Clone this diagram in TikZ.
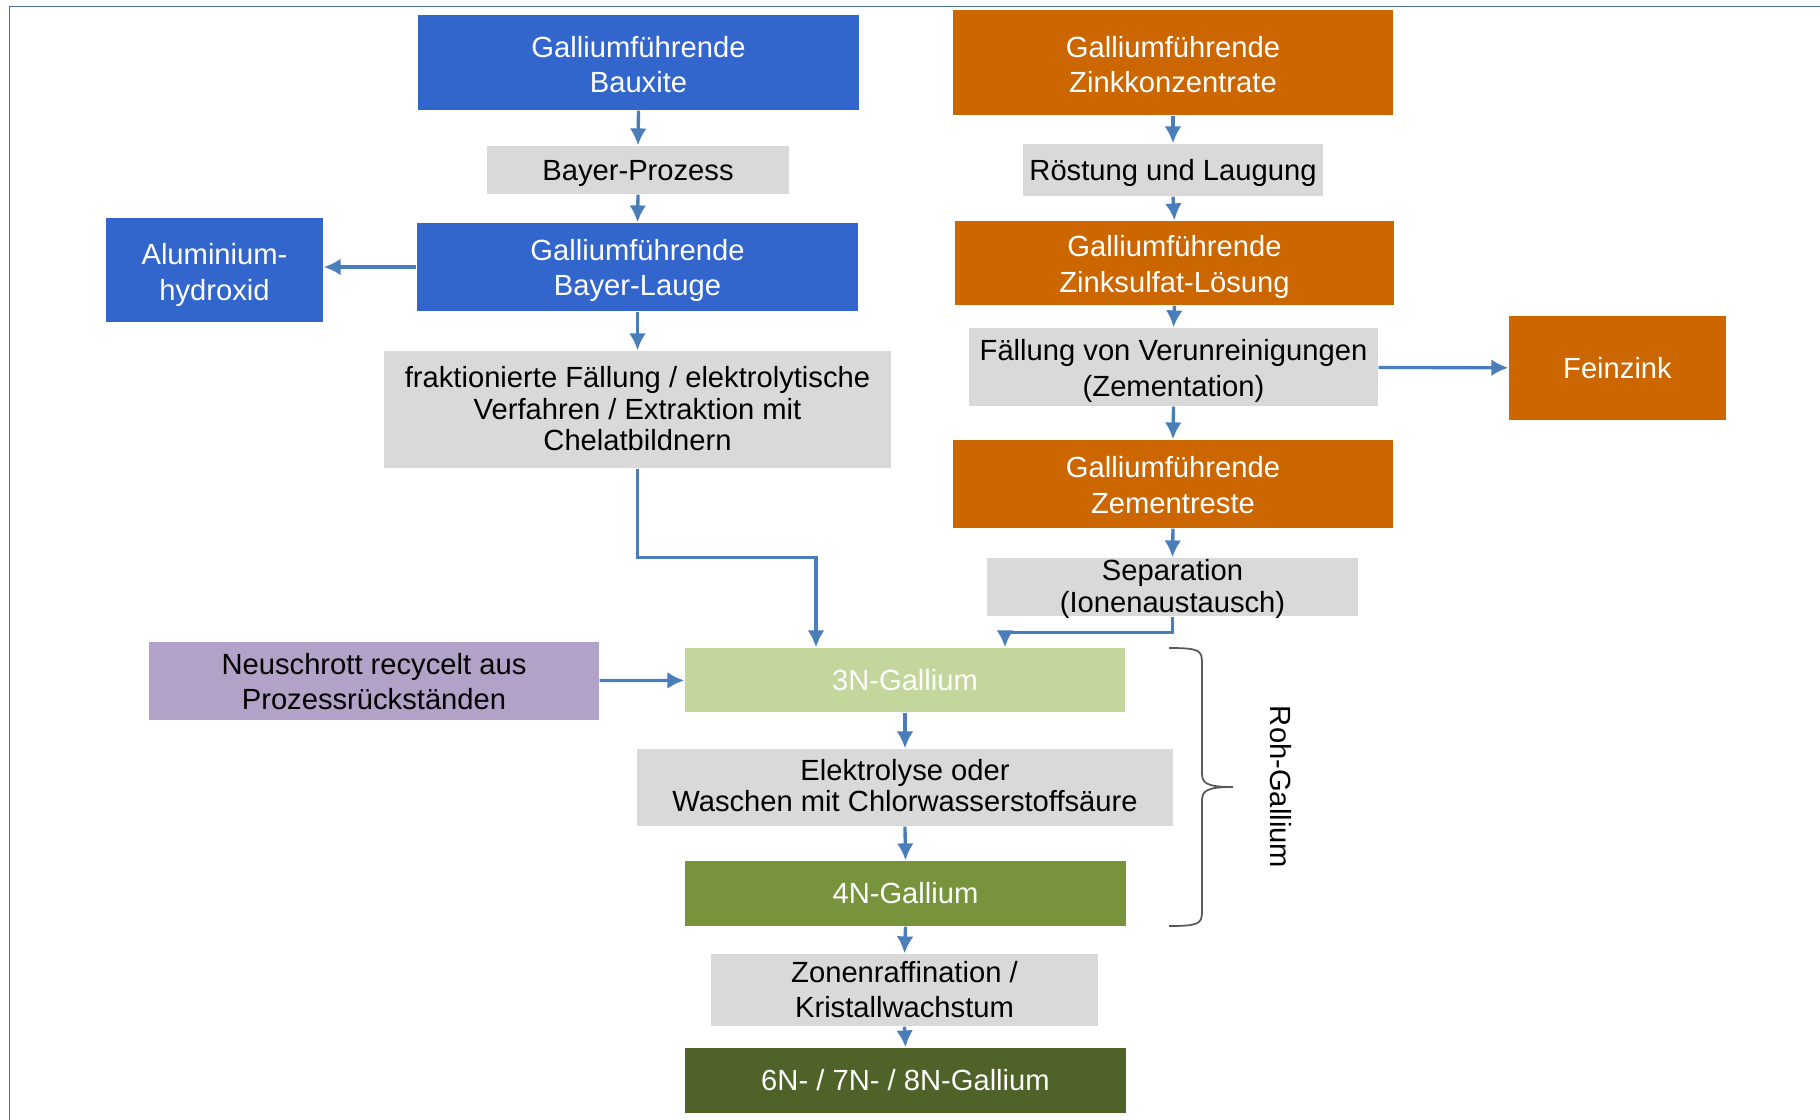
\documentclass[tikz,border=0pt]{standalone}
\usepackage{fontspec}
\setmainfont{Liberation Sans}
\usepackage{xcolor}
\usetikzlibrary{arrows.meta}

\definecolor{galblue}{HTML}{3366CC}
\definecolor{galorange}{HTML}{CC6600}
\definecolor{galgrey}{HTML}{D9D9D9}
\definecolor{galpurple}{HTML}{B3A2C7}
\definecolor{gallight}{HTML}{C3D69B}
\definecolor{galmid}{HTML}{77933C}
\definecolor{galdark}{HTML}{4F6228}
\definecolor{arrowblue}{HTML}{4A7EBB}
\definecolor{framecol}{HTML}{4A6FA5}
\definecolor{bracecol}{HTML}{595959}

\begin{document}
\begin{tikzpicture}[
		box/.style={inner sep=0pt, align=center, font=\fontsize{8.3}{10.2}\selectfont, text height=16.9pt, text depth=0pt},
		oneline/.style={text height=7.51pt, text depth=1.76pt},
		bluebox/.style={box, fill=galblue, text=white},
		orangebox/.style={box, fill=galorange, text=white},
		greybox/.style={box, fill=galgrey, text=black},
		arr/.style={draw=arrowblue, line width=0.95pt, -{Latex[length=4.8pt, width=4.8pt]}}
	]
			\useasboundingbox (0, 0) rectangle (18.20, -11.20);
			\draw[framecol, line width=0.5pt] (0.095, -11.20) -- (0.095, -0.065) -- (18.20, -0.065);

			% Bauxit-Zweig
			\node[bluebox, minimum width=4.41cm, minimum height=0.95cm, text height=17.3pt] (bauxite) at (6.385, -0.625) {Galliumführende\\Bauxite};
			\node[greybox, oneline, minimum width=3.02cm, minimum height=0.48cm] (bayerprozess) at (6.38, -1.70) {Bayer-Prozess};
			\node[bluebox, minimum width=4.41cm, minimum height=0.88cm, text height=16.5pt] (lauge) at (6.375, -2.67) {Galliumführende\\Bayer-Lauge};
			\node[bluebox, minimum width=2.17cm, minimum height=1.04cm, text height=17.3pt] (alu) at (2.145, -2.70) {Aluminium-\\hydroxid};
			\node[greybox, minimum width=5.07cm, minimum height=1.17cm, font=\fontsize{8.3}{8.9}\selectfont, text height=23.3pt] (frakt) at (6.375, -4.095) {fraktionierte Fällung / elektrolytische\\Verfahren / Extraktion mit\\Chelatbildnern};

			% Zink-Zweig
			\node[orangebox, minimum width=4.40cm, minimum height=1.05cm, text height=17.3pt] (zinkkonz) at (11.73, -0.625) {Galliumführende\\Zinkkonzentrate};
			\node[greybox, oneline, minimum width=3.00cm, minimum height=0.52cm] (roestung) at (11.73, -1.70) {Röstung und Laugung};
			\node[orangebox, minimum width=4.39cm, minimum height=0.84cm] (zinksulfat) at (11.745, -2.63) {Galliumführende\\Zinksulfat-Lösung};
			\node[greybox, minimum width=4.09cm, minimum height=0.78cm, text height=16.8pt] (faellung) at (11.735, -3.67) {Fällung von Verunreinigungen\\(Zementation)};
			\node[orangebox, oneline, minimum width=2.17cm, minimum height=1.04cm] (feinzink) at (16.175, -3.68) {Feinzink};
			\node[orangebox, minimum width=4.40cm, minimum height=0.88cm, text height=16.8pt] (zementreste) at (11.73, -4.84) {Galliumführende\\Zementreste};
			\node[greybox, minimum width=3.71cm, minimum height=0.58cm, font=\fontsize{8.3}{9.2}\selectfont, text height=14.5pt] (separation) at (11.725, -5.87) {Separation\\(Ionenaustausch)};

			% Reinigung
			\node[box, fill=galpurple, minimum width=4.50cm, minimum height=0.78cm, text height=16.5pt] (neuschrott) at (3.74, -6.81) {Neuschrott recycelt aus\\Prozessrückständen};
			\node[box, oneline, fill=gallight, text=white, minimum width=4.40cm, minimum height=0.64cm] (ga3n) at (9.05, -6.80) {3N-Gallium};
			\node[greybox, minimum width=5.36cm, minimum height=0.77cm, font=\fontsize{8.3}{8.9}\selectfont, text height=13.7pt] (elektrolyse) at (9.05, -7.875) {Elektrolyse oder\\Waschen mit Chlorwasserstoffsäure};
			\node[box, oneline, fill=galmid, text=white, minimum width=4.41cm, minimum height=0.65cm] (ga4n) at (9.055, -8.935) {4N-Gallium};
			\node[greybox, minimum width=3.87cm, minimum height=0.72cm, font=\fontsize{8.3}{10}\selectfont, text height=15.9pt] (zonen) at (9.045, -9.90) {Zonenraffination /\\Kristallwachstum};
			\node[box, oneline, fill=galdark, text=white, minimum width=4.41cm, minimum height=0.65cm] (ga6n) at (9.055, -10.805) {6N- / 7N- / 8N-Gallium};

			% Klammer Roh-Gallium
			\coordinate (bracetop) at (11.69, -6.48);
			\coordinate (bracetip) at (12.33, -7.87);
			\coordinate (bracebottom) at (11.69, -9.26);
			\draw[bracecol, line width=0.5pt] (bracetop) .. controls (11.98, -6.48) and (12.02, -6.50) .. (12.02, -6.62)
				-- (12.02, -7.73) .. controls (12.02, -7.83) and (12.06, -7.87) .. (bracetip)
				(bracetip) .. controls (12.06, -7.87) and (12.02, -7.91) .. (12.02, -8.01)
				-- (12.02, -9.12) .. controls (12.02, -9.24) and (11.98, -9.26) .. (bracebottom);
			\node[rotate=-90, font=\fontsize{8.3}{10}\selectfont] (rohgallium) at (12.81, -7.87) {Roh-Gallium};

			\draw[arr] (bauxite.south) -- (bayerprozess.north);
			\draw[arr] (bayerprozess.south) -- (lauge.north);
			\draw[arr] (lauge.west) -- (lauge.west -| alu.east);
			\draw[arr] (lauge.south) -- (frakt.north);
			\draw[arr] (frakt.south) -- ++(0, -0.89) -| ([xshift=-0.89cm]ga3n.north);

			\draw[arr] (zinkkonz.south) -- (roestung.north);
			\draw[arr] (roestung.south) -- (zinksulfat.north);
			\draw[arr] (zinksulfat.south) -- (faellung.north);
			\draw[arr] (faellung) -- (feinzink);
			\draw[arr] (faellung.south) -- (zementreste.north);
			\draw[arr] (zementreste.south) -- (separation.north);
			\draw[arr] (separation.south) -- ++(0, -0.16) -| ([xshift=1.0cm]ga3n.north);

			\draw[arr] (neuschrott) -- (ga3n);
			\draw[arr] (ga3n.south) -- (elektrolyse.north);
			\draw[arr] (elektrolyse.south) -- (ga4n.north);
			\draw[arr] (ga4n.south) -- (zonen.north);
			\draw[arr] (zonen.south) -- (ga6n.north);
		\end{tikzpicture}
\end{document}
